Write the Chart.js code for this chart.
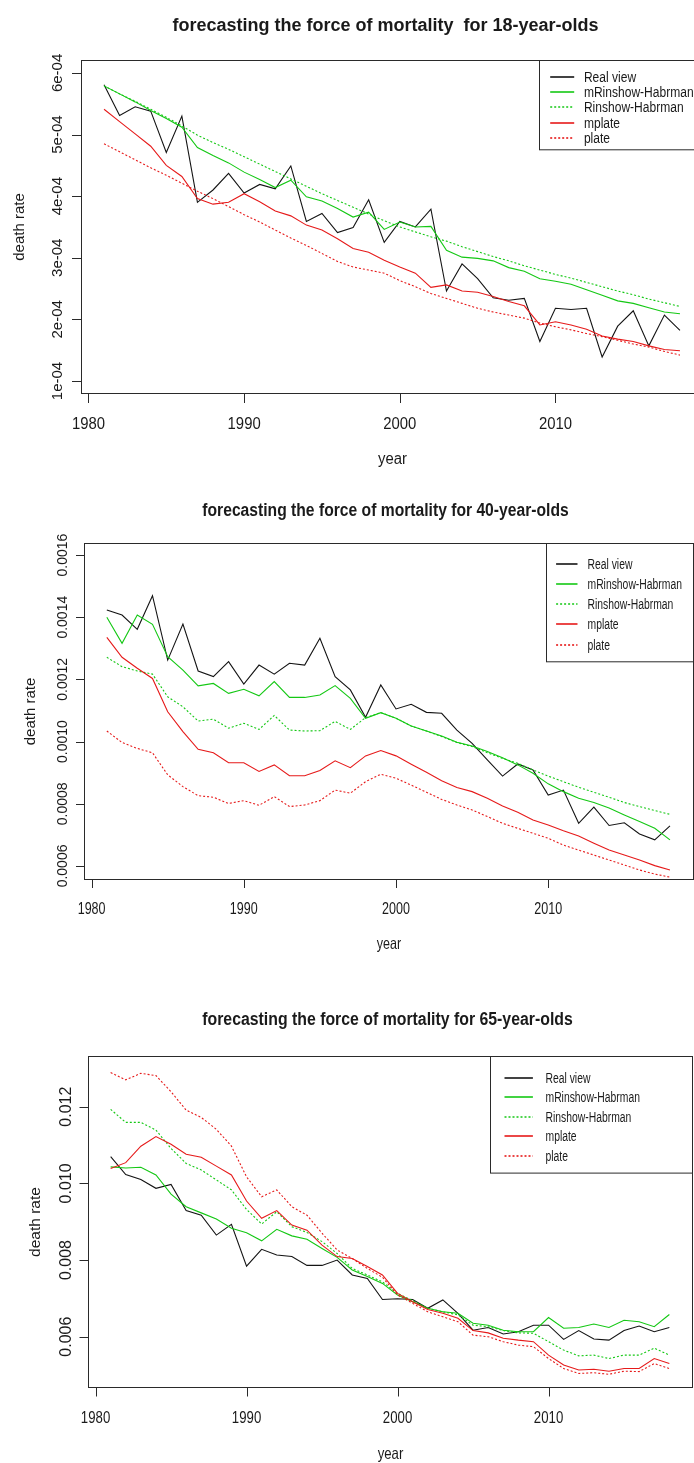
<!DOCTYPE html>
<html>
<head>
<meta charset="utf-8">
<title>forecasting the force of mortality</title>
<script src="https://cdn.jsdelivr.net/npm/chart.js@4.4.1/dist/chart.umd.min.js"></script>
<style>
  html, body { margin: 0; padding: 0; background: #fff; overflow: hidden; width: 694px; height: 1463px; }
  canvas { position: absolute; left: 0; }
</style>
</head>
<body>
<canvas id="age18" width="720" height="485" style="top:0px"></canvas>
<canvas id="age40" width="694" height="490" style="top:485px"></canvas>
<canvas id="age65" width="694" height="488" style="top:975px"></canvas>
<script>
// years of observation / forecast
const years = [1981, 1982, 1983, 1984, 1985, 1986, 1987, 1988, 1989, 1990,
    1991, 1992, 1993, 1994, 1995, 1996, 1997, 1998, 1999, 2000,
    2001, 2002, 2003, 2004, 2005, 2006, 2007, 2008, 2009, 2010,
    2011, 2012, 2013, 2014, 2015, 2016, 2017, 2018];
const xTicks = [1980, 1990, 2000, 2010];
const seriesNames = ['Real view', 'mRinshow-Habrman', 'Rinshow-Habrman', 'mplate', 'plate'];

// 18-year-olds
const real18 = [5.81e-4, 5.31e-4, 5.45e-4, 5.38e-4, 4.71e-4, 5.30e-4, 3.90e-4, 4.10e-4, 4.37e-4, 4.05e-4,
    4.19e-4, 4.12e-4, 4.49e-4, 3.59e-4, 3.72e-4, 3.41e-4, 3.49e-4, 3.94e-4, 3.25e-4, 3.59e-4,
    3.50e-4, 3.79e-4, 2.46e-4, 2.90e-4, 2.66e-4, 2.35e-4, 2.31e-4, 2.34e-4, 1.64e-4, 2.18e-4,
    2.16e-4, 2.18e-4, 1.39e-4, 1.89e-4, 2.14e-4, 1.57e-4, 2.07e-4, 1.82e-4];
const mrh18 = [5.79e-4, 5.66e-4, 5.53e-4, 5.39e-4, 5.26e-4, 5.12e-4, 4.79e-4, 4.66e-4, 4.54e-4, 4.39e-4,
    4.27e-4, 4.14e-4, 4.26e-4, 3.99e-4, 3.92e-4, 3.80e-4, 3.66e-4, 3.74e-4, 3.46e-4, 3.58e-4,
    3.50e-4, 3.51e-4, 3.12e-4, 3.01e-4, 2.99e-4, 2.95e-4, 2.84e-4, 2.78e-4, 2.66e-4, 2.62e-4,
    2.57e-4, 2.48e-4, 2.39e-4, 2.30e-4, 2.26e-4, 2.19e-4, 2.12e-4, 2.09e-4];
const rh18 = [5.79e-4, 5.66e-4, 5.54e-4, 5.41e-4, 5.28e-4, 5.14e-4, 4.99e-4, 4.87e-4, 4.76e-4, 4.64e-4,
    4.52e-4, 4.40e-4, 4.28e-4, 4.16e-4, 4.04e-4, 3.93e-4, 3.82e-4, 3.71e-4, 3.60e-4, 3.50e-4,
    3.42e-4, 3.34e-4, 3.27e-4, 3.18e-4, 3.10e-4, 3.02e-4, 2.95e-4, 2.87e-4, 2.80e-4, 2.73e-4,
    2.67e-4, 2.60e-4, 2.53e-4, 2.46e-4, 2.40e-4, 2.33e-4, 2.27e-4, 2.21e-4];
const mplate18 = [5.41e-4, 5.21e-4, 5.01e-4, 4.81e-4, 4.50e-4, 4.32e-4, 3.96e-4, 3.87e-4, 3.90e-4, 4.04e-4,
    3.91e-4, 3.76e-4, 3.68e-4, 3.53e-4, 3.45e-4, 3.31e-4, 3.15e-4, 3.09e-4, 2.96e-4, 2.85e-4,
    2.75e-4, 2.52e-4, 2.56e-4, 2.46e-4, 2.44e-4, 2.37e-4, 2.29e-4, 2.22e-4, 1.91e-4, 1.96e-4,
    1.91e-4, 1.84e-4, 1.73e-4, 1.68e-4, 1.64e-4, 1.57e-4, 1.51e-4, 1.49e-4];
const plate18 = [4.85e-4, 4.72e-4, 4.59e-4, 4.46e-4, 4.34e-4, 4.21e-4, 4.08e-4, 3.96e-4, 3.83e-4, 3.70e-4,
    3.58e-4, 3.45e-4, 3.32e-4, 3.20e-4, 3.07e-4, 2.94e-4, 2.85e-4, 2.80e-4, 2.75e-4, 2.63e-4,
    2.53e-4, 2.42e-4, 2.34e-4, 2.26e-4, 2.18e-4, 2.12e-4, 2.07e-4, 2.02e-4, 1.94e-4, 1.88e-4,
    1.83e-4, 1.77e-4, 1.72e-4, 1.66e-4, 1.60e-4, 1.55e-4, 1.48e-4, 1.42e-4];
const yTicks18 = [1e-4, 2e-4, 3e-4, 4e-4, 5e-4, 6e-4];
const yLabels18 = ['1e-04', '2e-04', '3e-04', '4e-04', '5e-04', '6e-04'];

// 40-year-olds
const real40 = [0.001423, 0.001407, 0.001361, 0.001469, 0.001262, 0.001378, 0.001227, 0.001209, 0.001257, 0.001185,
    0.001246, 0.001217, 0.001252, 0.001246, 0.001332, 0.001209, 0.001166, 0.001078, 0.001182, 0.001105,
    0.001120, 0.001094, 0.001091, 0.001037, 0.000994, 0.000941, 0.000889, 0.000928, 0.000909, 0.000828,
    0.000844, 0.000737, 0.000789, 0.000730, 0.000739, 0.000703, 0.000684, 0.000729];
const mrh40 = [0.001400, 0.001316, 0.001407, 0.001377, 0.001273, 0.001230, 0.001179, 0.001187, 0.001155, 0.001168,
    0.001147, 0.001193, 0.001142, 0.001142, 0.001150, 0.001180, 0.001139, 0.001075, 0.001093, 0.001075,
    0.001050, 0.001034, 0.001018, 0.000998, 0.000986, 0.000968, 0.000948, 0.000925, 0.000898, 0.000864,
    0.000839, 0.000818, 0.000804, 0.000786, 0.000764, 0.000743, 0.000721, 0.000684];
const rh40 = [0.001271, 0.001241, 0.001227, 0.001217, 0.001144, 0.001112, 0.001066, 0.001072, 0.001043, 0.001059,
    0.001039, 0.001084, 0.001037, 0.001034, 0.001035, 0.001065, 0.001039, 0.001077, 0.001093, 0.001075,
    0.001050, 0.001034, 0.001016, 0.000997, 0.000984, 0.000964, 0.000946, 0.000930, 0.000909, 0.000889,
    0.000871, 0.000853, 0.000837, 0.000821, 0.000804, 0.000791, 0.000778, 0.000766];
const mplate40 = [0.001335, 0.001271, 0.001236, 0.001203, 0.001096, 0.001032, 0.000975, 0.000964, 0.000932, 0.000932,
    0.000904, 0.000925, 0.000890, 0.000890, 0.000907, 0.000938, 0.000916, 0.000954, 0.000971, 0.000954,
    0.000927, 0.000901, 0.000874, 0.000852, 0.000839, 0.000818, 0.000793, 0.000773, 0.000748, 0.000732,
    0.000713, 0.000696, 0.000673, 0.000651, 0.000635, 0.000619, 0.000601, 0.000587];
const plate40 = [0.001034, 0.000997, 0.000978, 0.000964, 0.000893, 0.000855, 0.000826, 0.000821, 0.000801, 0.000810,
    0.000795, 0.000823, 0.000791, 0.000796, 0.000810, 0.000844, 0.000834, 0.000871, 0.000895, 0.000882,
    0.000860, 0.000837, 0.000814, 0.000796, 0.000780, 0.000759, 0.000737, 0.000721, 0.000705, 0.000689,
    0.000667, 0.000651, 0.000635, 0.000619, 0.000603, 0.000587, 0.000574, 0.000564];
const yTicks40 = [0.0006, 0.0008, 0.0010, 0.0012, 0.0014, 0.0016];
const yLabels40 = ['0.0006', '0.0008', '0.0010', '0.0012', '0.0014', '0.0016'];

// 65-year-olds
const real65 = [0.01070, 0.01023, 0.01010, 0.00987, 0.00997, 0.00929, 0.00917, 0.00865, 0.00893, 0.00784,
    0.00828, 0.00813, 0.00809, 0.00786, 0.00786, 0.00800, 0.00761, 0.00752, 0.00697, 0.00699,
    0.00697, 0.00674, 0.00696, 0.00661, 0.00617, 0.00624, 0.00607, 0.00613, 0.00630, 0.00630,
    0.00593, 0.00616, 0.00594, 0.00591, 0.00616, 0.00628, 0.00613, 0.00624];
const mrh65 = [0.01043, 0.01040, 0.01042, 0.01022, 0.00972, 0.00939, 0.00923, 0.00907, 0.00883, 0.00871,
    0.00850, 0.00880, 0.00863, 0.00854, 0.00830, 0.00807, 0.00774, 0.00757, 0.00739, 0.00709,
    0.00691, 0.00674, 0.00665, 0.00661, 0.00635, 0.00630, 0.00617, 0.00613, 0.00613, 0.00650,
    0.00622, 0.00624, 0.00633, 0.00624, 0.00643, 0.00639, 0.00626, 0.00658];
const rh65 = [0.01193, 0.01159, 0.01159, 0.01139, 0.01091, 0.01052, 0.01035, 0.01009, 0.00983, 0.00932,
    0.00894, 0.00926, 0.00887, 0.00872, 0.00848, 0.00817, 0.00778, 0.00761, 0.00743, 0.00713,
    0.00694, 0.00674, 0.00665, 0.00657, 0.00630, 0.00626, 0.00616, 0.00610, 0.00609, 0.00587,
    0.00565, 0.00550, 0.00552, 0.00543, 0.00552, 0.00552, 0.00570, 0.00552];
const mplate65 = [0.01039, 0.01054, 0.01097, 0.01122, 0.01102, 0.01076, 0.01068, 0.01045, 0.01022, 0.00954,
    0.00909, 0.00929, 0.00891, 0.00878, 0.00839, 0.00809, 0.00804, 0.00783, 0.00761, 0.00713,
    0.00691, 0.00671, 0.00661, 0.00648, 0.00616, 0.00610, 0.00596, 0.00591, 0.00587, 0.00552,
    0.00526, 0.00513, 0.00515, 0.00510, 0.00517, 0.00517, 0.00543, 0.00530];
const plate65 = [0.01289, 0.01270, 0.01287, 0.01281, 0.01239, 0.01191, 0.01172, 0.01141, 0.01097, 0.01017,
    0.00965, 0.00983, 0.00939, 0.00917, 0.00870, 0.00826, 0.00804, 0.00778, 0.00755, 0.00709,
    0.00687, 0.00665, 0.00652, 0.00639, 0.00604, 0.00600, 0.00587, 0.00578, 0.00574, 0.00543,
    0.00517, 0.00504, 0.00506, 0.00502, 0.00510, 0.00509, 0.00530, 0.00517];
const yTicks65 = [0.006, 0.008, 0.010, 0.012];
const yLabels65 = ['0.006', '0.008', '0.010', '0.012'];

// line looks, same order as seriesNames
const lineColors = ['#141414', '#14c814', '#14c814', '#e61a1a', '#e61a1a'];
const lineDash = [[], [], [2, 2], [], [2, 2]];

const FONT = '"Liberation Sans", Arial, sans-serif';

function put(ctx, str, x, y, font, sx, up) {
    ctx.save();
    ctx.translate(x, y);
    if (up) {
        ctx.rotate(-Math.PI / 2);
    } else {
        ctx.scale(sx, 1);
    }
    ctx.font = font;
    ctx.fillText(str, 0, 0);
    ctx.restore();
}

// draws the R style frame: box, ticks, labels, title and legend
const rFrame = {
    id: 'rFrame',
    afterDraw(chart, args, o) {
        const ctx = chart.ctx;
        const a = chart.chartArea;
        const xs = chart.scales.x;
        const ys = chart.scales.y;
        const L = Math.round(a.left) + 0.5, R = Math.round(a.right) + 0.5;
        const T = Math.round(a.top) + 0.5, B = Math.round(a.bottom) + 0.5;

        ctx.save();
        ctx.strokeStyle = '#2a2a2a';
        ctx.lineWidth = 1;
        ctx.setLineDash([]);
        ctx.strokeRect(L, T, R - L, B - T);

        ctx.beginPath();
        o.xTicks.forEach(t => {
            const px = Math.round(xs.getPixelForValue(t)) + 0.5;
            ctx.moveTo(px, B);
            ctx.lineTo(px, B + o.tick);
        });
        o.yTicks.forEach(t => {
            const py = Math.round(ys.getPixelForValue(t)) + 0.5;
            ctx.moveTo(L, py);
            ctx.lineTo(L - o.tick, py);
        });
        ctx.stroke();

        ctx.fillStyle = '#1a1a1a';
        ctx.textAlign = 'center';
        ctx.textBaseline = 'alphabetic';
        o.xTicks.forEach(t => put(ctx, String(t), xs.getPixelForValue(t), B + o.xTickY, o.xFont, o.xSx, false));
        put(ctx, 'year', (L + R) / 2, B + o.xTitleY, o.xFont, o.xSx, false);
        o.yTicks.forEach((t, i) => put(ctx, o.yLabels[i], L - o.yTickX, ys.getPixelForValue(t), o.yFont, 1, true));
        put(ctx, 'death rate', L - o.yTitleX, (T + B) / 2, o.yTitleFont, 1, true);
        put(ctx, o.title, (L + R) / 2 + o.titleDx, T + o.titleY, o.titleFont, o.titleSx, false);

        // legend in the top right corner of the plot box
        const lg = o.legend;
        const bx = Math.round(R - lg.w) + 0.5;
        ctx.fillStyle = '#fff';
        ctx.fillRect(bx, T, R - bx, lg.h);
        ctx.strokeRect(bx, T, R - bx, lg.h);
        ctx.textAlign = 'left';
        ctx.textBaseline = 'middle';
        chart.data.datasets.forEach((ds, i) => {
            const ly = Math.round(T + lg.first + i * lg.step);
            ctx.save();
            ctx.strokeStyle = ds.borderColor;
            ctx.lineWidth = 1.6;
            ctx.setLineDash(ds.borderDash);
            ctx.beginPath();
            ctx.moveTo(bx + lg.line0, ly);
            ctx.lineTo(bx + lg.line1, ly);
            ctx.stroke();
            ctx.restore();
            ctx.fillStyle = '#1a1a1a';
            put(ctx, ds.label, bx + lg.text, ly + 1, lg.font, lg.sx, false);
        });
        ctx.restore();
    }
};

function makeChart(id, lists, yMin, yMax, padding, frame) {
    const datasets = lists.map((vals, i) => ({
        label: seriesNames[i],
        data: years.map((yr, j) => ({ x: yr, y: vals[j] })),
        borderColor: lineColors[i],
        borderDash: lineDash[i],
        borderWidth: 1.1,
        pointRadius: 0,
        tension: 0,
        fill: false,
        order: lists.length - i
    }));
    return new Chart(document.getElementById(id), {
        type: 'line',
        data: { datasets: datasets },
        options: {
            responsive: false,
            animation: false,
            devicePixelRatio: 1,
            layout: { padding: padding },
            scales: {
                x: { type: 'linear', display: false, min: 1979.52, max: 2019.48 },
                y: { type: 'linear', display: false, min: yMin, max: yMax }
            },
            plugins: {
                legend: { display: false },
                tooltip: { enabled: false },
                rFrame: frame
            }
        },
        plugins: [rFrame]
    });
}

makeChart('age18', [real18, mrh18, rh18, mplate18, plate18], 0.80e-4, 6.21e-4,
    { left: 81, top: 60, right: 17, bottom: 91.7 },
    {
        title: 'forecasting the force of mortality  for 18-year-olds',
        titleFont: 'bold 18px ' + FONT, titleSx: 1, titleY: -30, titleDx: -7,
        tick: 9.5, xTicks: xTicks, yTicks: yTicks18, yLabels: yLabels18,
        xFont: '16px ' + FONT, xSx: 0.93, xTickY: 35, xTitleY: 70.7,
        yFont: '15px ' + FONT, yTickX: 20, yTitleFont: '15px ' + FONT, yTitleX: 57.4,
        legend: { w: 164.7, h: 89.3, first: 16.5, step: 15.2, line0: 10.7, line1: 34.7, text: 44.4,
            font: '14px ' + FONT, sx: 0.86 }
    });

makeChart('age40', [real40, mrh40, rh40, mplate40, plate40], 0.000558, 0.0016396,
    { left: 84.3, top: 57.7, right: 1.5, bottom: 96 },
    {
        title: 'forecasting the force of mortality for 40-year-olds',
        titleFont: 'bold 18px ' + FONT, titleSx: 0.87, titleY: -27.7, titleDx: -3.5,
        tick: 8.5, xTicks: xTicks, yTicks: yTicks40, yLabels: yLabels40,
        xFont: '16.5px ' + FONT, xSx: 0.76, xTickY: 34.3, xTitleY: 69.3,
        yFont: '14px ' + FONT, yTickX: 17.6, yTitleFont: '15px ' + FONT, yTitleX: 49.3,
        legend: { w: 147.6, h: 118.3, first: 20.6, step: 20.1, line0: 9.6, line1: 31, text: 41,
            font: '14px ' + FONT, sx: 0.74 }
    });

makeChart('age65', [real65, mrh65, rh65, mplate65, plate65], 0.00468, 0.01333,
    { left: 88.3, top: 80.7, right: 2.3, bottom: 75.7 },
    {
        title: 'forecasting the force of mortality for 65-year-olds',
        titleFont: 'bold 18px ' + FONT, titleSx: 0.88, titleY: -31.7, titleDx: -3,
        tick: 9, xTicks: xTicks, yTicks: yTicks65, yLabels: yLabels65,
        xFont: '16.5px ' + FONT, xSx: 0.8, xTickY: 35.4, xTitleY: 71,
        yFont: '16px ' + FONT, yTickX: 17.3, yTitleFont: '15.5px ' + FONT, yTitleX: 49,
        legend: { w: 202.4, h: 116.6, first: 21, step: 19.6, line0: 14, line1: 42.4, text: 55,
            font: '14px ' + FONT, sx: 0.74 }
    });
</script>
</body>
</html>
